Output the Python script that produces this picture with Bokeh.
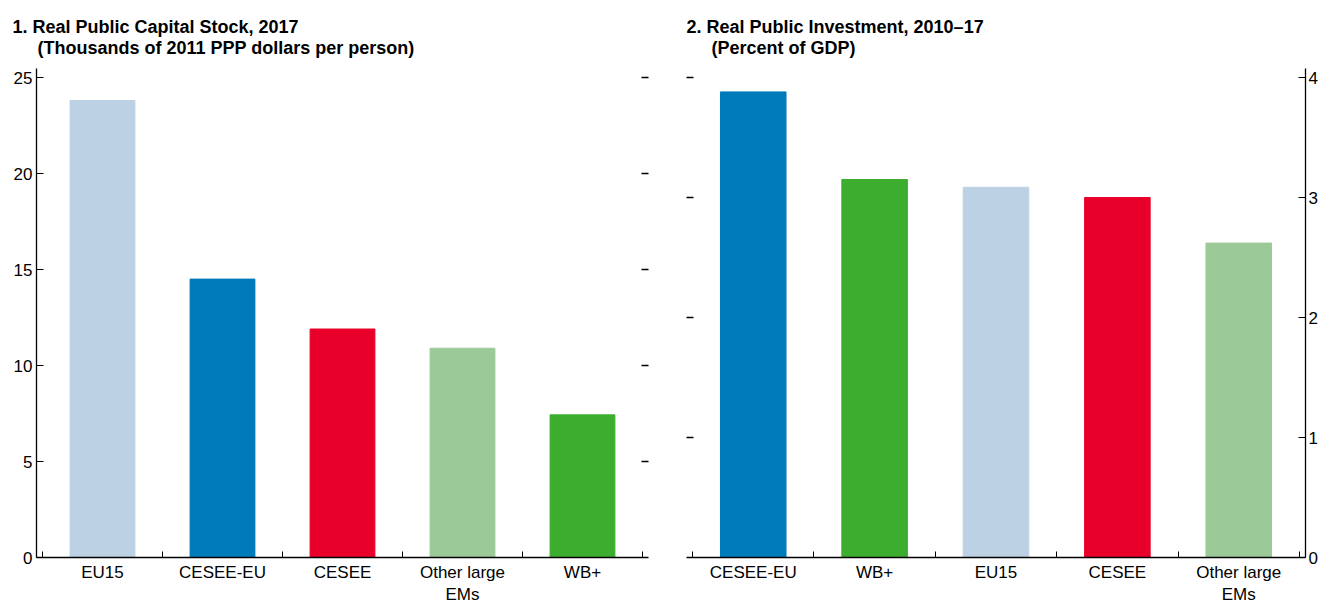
from bokeh.plotting import figure
from bokeh.models import (Range1d, FixedTicker, LinearAxis, Title, ColumnDataSource)
from bokeh.layouts import row
from bokeh.embed import file_html
from bokeh.resources import INLINE

FONT = "Liberation Sans"

# Panel 1 data
cats1 = ["EU15", "CESEE-EU", "CESEE", "Other large\nEMs", "WB+"]
vals1 = [23.8, 14.5, 11.9, 10.9, 7.43]
cols1 = ["#BDD1E4", "#007BBA", "#E8002B", "#9BC998", "#3CAD2E"]
yticks1 = [0, 5, 10, 15, 20, 25]
title1 = ["1. Real Public Capital Stock, 2017",
          "(Thousands of 2011 PPP dollars per person)"]

# Panel 2 data
cats2 = ["CESEE-EU", "WB+", "EU15", "CESEE", "Other large\nEMs"]
vals2 = [3.88, 3.15, 3.085, 3.0, 2.62]
cols2 = ["#007BBA", "#3CAD2E", "#BDD1E4", "#E8002B", "#9BC998"]
yticks2 = [0, 1, 2, 3, 4]
title2 = ["2. Real Public Investment, 2010\u201317",
          "(Percent of GDP)"]

INDENT = "\u00a0" * 5


def style_axis(ax, fs="17px"):
    ax.axis_line_color = "black"
    ax.axis_line_width = 1.3
    ax.major_tick_line_color = "black"
    ax.minor_tick_line_color = "black"
    ax.major_label_text_font = FONT
    ax.major_label_text_font_size = fs
    ax.major_label_text_color = "black"


def make_panel(cats, vals, cols, yticks, ymax, title_lines, toff,
               width, height, left_border, right_border, top_border,
               bottom_border, yside, t_standoff):
    n = len(cats)
    xs = list(range(n))
    src = ColumnDataSource(dict(x=xs, top=vals, color=cols, name=cats))
    p = figure(width=width, height=height, output_backend="svg",
               toolbar_location=None, x_range=Range1d(-0.55, n - 0.45),
               y_range=Range1d(0, ymax), x_axis_location=None,
               y_axis_location=None,
               min_border_left=left_border, min_border_right=right_border,
               min_border_top=top_border, min_border_bottom=bottom_border)
    p.vbar(x="x", top="top", width=0.54, color="color", source=src)
    p.grid.visible = False
    p.outline_line_color = None
    p.background_fill_color = "white"
    p.border_fill_color = "white"

    # x axis: labels at centres, small ticks at category boundaries
    xa = LinearAxis(ticker=FixedTicker(ticks=xs,
                                       minor_ticks=[i - 0.5 for i in range(n + 1)]))
    xa.major_label_overrides = {i: c for i, c in zip(xs, cats)}
    style_axis(xa)
    xa.major_tick_in = 0
    xa.major_tick_out = 0
    xa.minor_tick_in = 6
    xa.minor_tick_out = 0
    xa.major_label_standoff = 5
    p.add_layout(xa, "below")

    # labelled value axis
    ya = LinearAxis(ticker=FixedTicker(ticks=yticks, minor_ticks=[]))
    style_axis(ya)
    ya.major_tick_in = 7
    ya.major_tick_out = 0
    ya.major_label_standoff = 4
    # opposite-side bare ticks (drawn as minor ticks, no labels)
    yb = LinearAxis(ticker=FixedTicker(ticks=[], minor_ticks=yticks[1:]))
    style_axis(yb)
    yb.axis_line_color = None
    yb.major_tick_in = 0
    yb.major_tick_out = 0
    yb.minor_tick_in = 7
    yb.minor_tick_out = 0
    yb.minor_tick_line_width = 1.3
    yb.major_label_standoff = 0
    if yside == "left":
        p.add_layout(ya, "left")
        p.add_layout(yb, "right")
    else:
        ya.major_label_standoff = 3
        p.add_layout(ya, "right")
        p.add_layout(yb, "left")

    t = Title(text=title_lines[0] + "\n" + INDENT + title_lines[1],
              align="left", offset=toff, text_font=FONT,
              text_font_size="18px", text_font_style="bold",
              text_color="black", standoff=t_standoff, text_line_height=1.05)
    p.add_layout(t, "above")
    return p


p1 = make_panel(cats1, vals1, cols1, yticks1, 25.47, title1, -24,
                668, 607, 36, 20, 68, 49, "left", 22)
p2 = make_panel(cats2, vals2, cols2, yticks2, 4.075, title2, 0,
                652, 607, 18, 13, 68, 49, "right", 22)

layout = row(p1, p2)
open("out.html", "w").write(file_html(layout, INLINE))
